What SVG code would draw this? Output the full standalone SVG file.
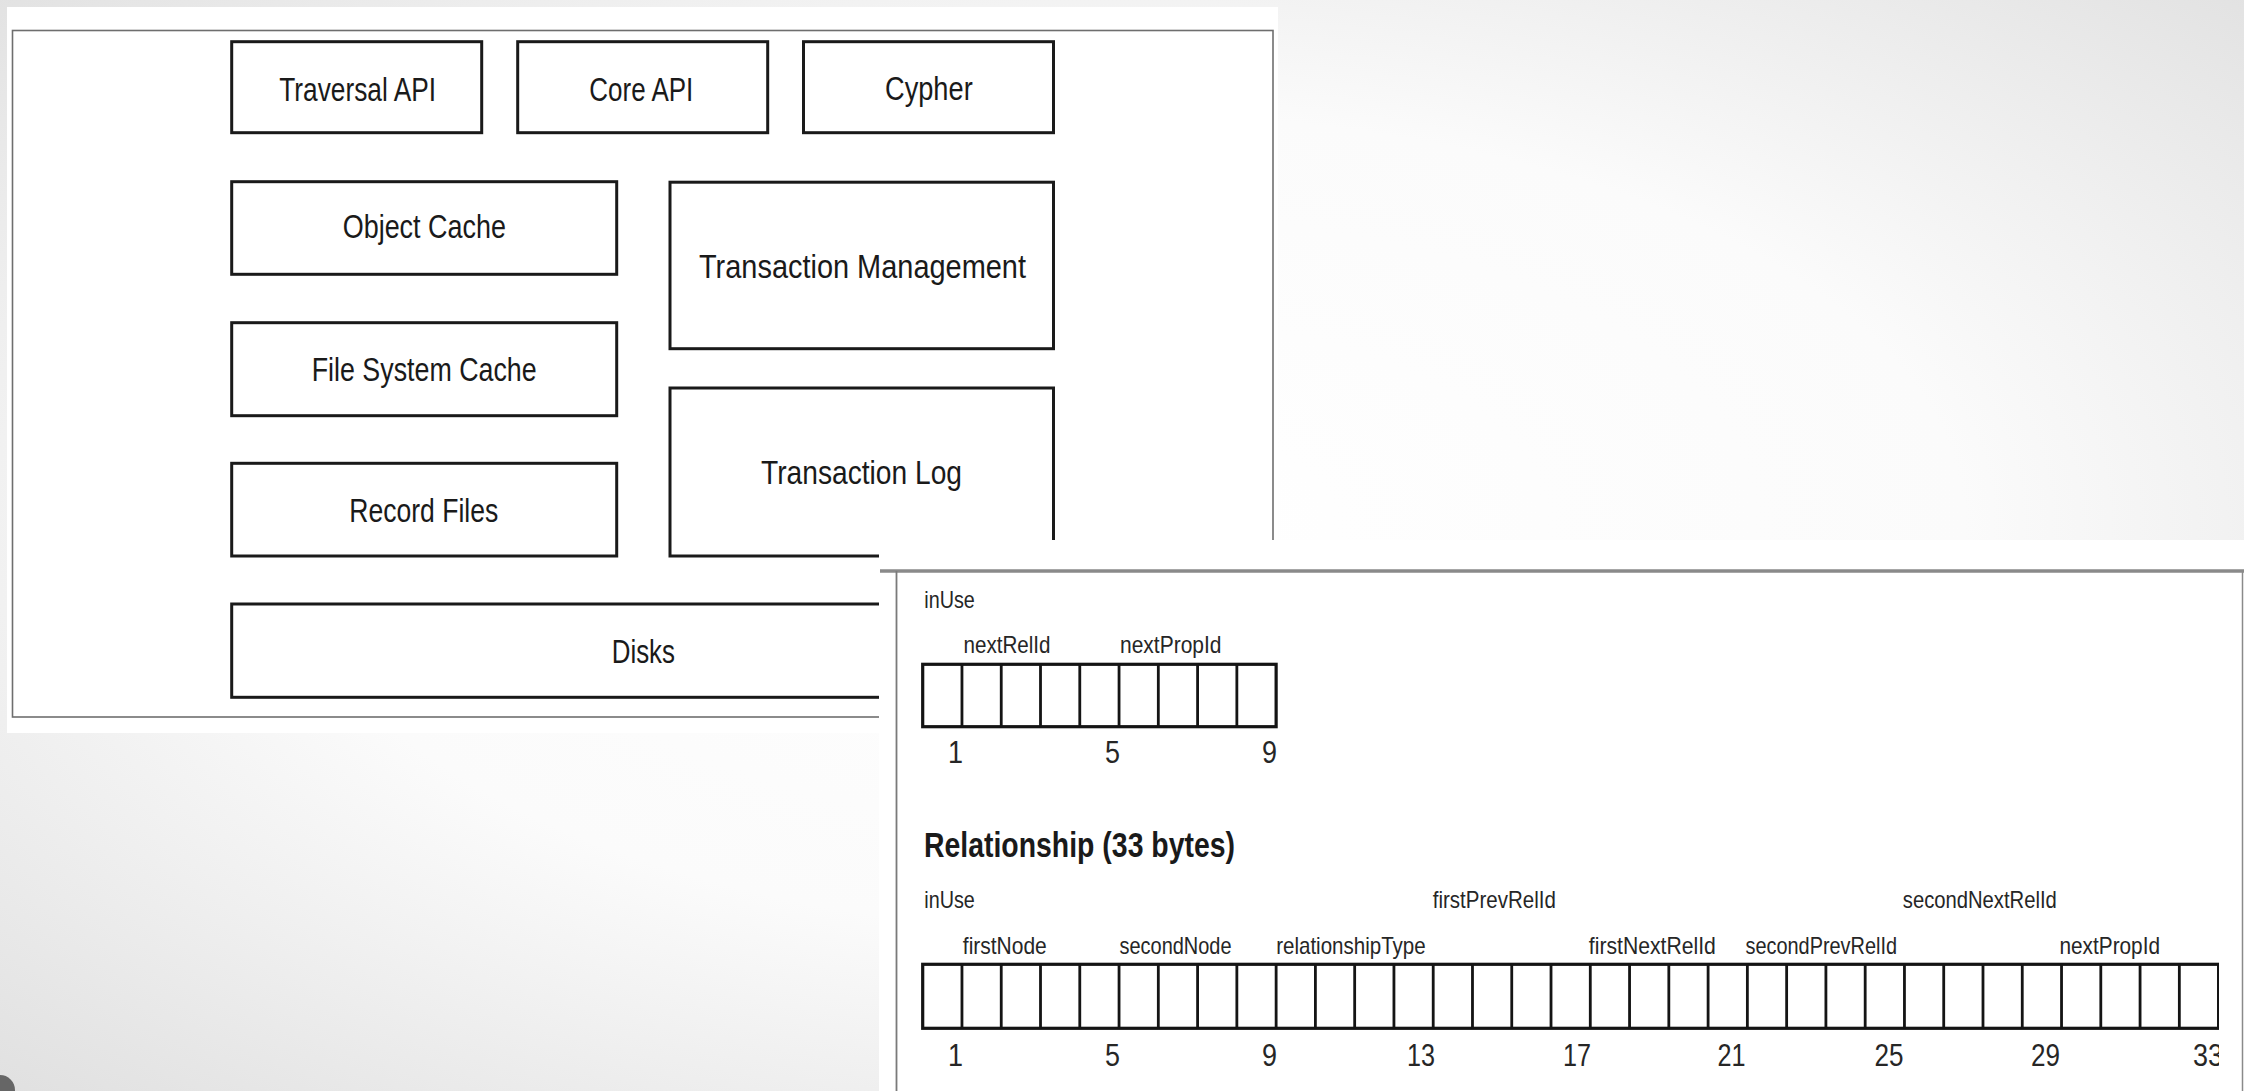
<svg xmlns="http://www.w3.org/2000/svg" width="2244" height="1091" viewBox="0 0 2244 1091">
<defs>
<radialGradient id="bg" cx="50%" cy="48%" r="75%">
<stop offset="0" stop-color="#ffffff"/>
<stop offset="0.5" stop-color="#fbfbfb"/>
<stop offset="1" stop-color="#dedede"/>
</radialGradient>
<clipPath id="clipRight"><rect x="880" y="540" width="1339" height="551"/></clipPath>
<style>
.box{fill:#fff;stroke:#1a1a1a;stroke-width:3}
.lbl{font-family:"Liberation Sans",Arial,sans-serif;font-size:33px;fill:#1a1a1a}
.fld{font-family:"Liberation Sans",Arial,sans-serif;font-size:24px;fill:#262626}
.num{font-family:"Liberation Sans",Arial,sans-serif;font-size:31px;fill:#262626;text-anchor:end}
.ttl{font-family:"Liberation Sans",Arial,sans-serif;font-size:35px;font-weight:bold;fill:#1a1a1a}
.frame{fill:none;stroke:#6e6e6e;stroke-width:1.6}
.row{fill:none;stroke:#141414;stroke-width:3.2}
.div{fill:none;stroke:#141414;stroke-width:2.8}
</style>
</defs>

<rect x="0" y="0" width="2244" height="1091" fill="url(#bg)"/>
<circle cx="0" cy="1090" r="15" fill="#666"/>

<!-- First picture: architecture stack -->
<g id="architecture">
<rect x="7" y="7" width="1271" height="726" fill="#fff"/>
<rect class="frame" x="12.5" y="30.5" width="1260.5" height="686.5"/>

<g id="node-traversal-api">
<rect class="box" x="231.7" y="41.7" width="250" height="91"/>
<text class="lbl" x="279.3" y="101" textLength="156.7" lengthAdjust="spacingAndGlyphs">Traversal API</text>
</g>
<g id="node-core-api">
<rect class="box" x="517.7" y="41.7" width="250" height="91"/>
<text class="lbl" x="589.3" y="101" textLength="104" lengthAdjust="spacingAndGlyphs">Core API</text>
</g>
<g id="node-cypher">
<rect class="box" x="803.5" y="41.7" width="250" height="91"/>
<text class="lbl" x="885" y="100" textLength="87.7" lengthAdjust="spacingAndGlyphs">Cypher</text>
</g>
<g id="node-object-cache">
<rect class="box" x="231.7" y="181.7" width="385" height="92.6"/>
<text class="lbl" x="342.7" y="238.3" textLength="163.3" lengthAdjust="spacingAndGlyphs">Object Cache</text>
</g>
<g id="node-transaction-management">
<rect class="box" x="670" y="182.2" width="383.5" height="166.5"/>
<text class="lbl" x="699" y="278.3" textLength="327" lengthAdjust="spacingAndGlyphs">Transaction Management</text>
</g>
<g id="node-file-system-cache">
<rect class="box" x="231.7" y="322.7" width="385" height="93"/>
<text class="lbl" x="311.7" y="381" textLength="225" lengthAdjust="spacingAndGlyphs">File System Cache</text>
</g>
<g id="node-transaction-log">
<rect class="box" x="670" y="388" width="383.5" height="168"/>
<text class="lbl" x="761" y="484" textLength="201" lengthAdjust="spacingAndGlyphs">Transaction Log</text>
</g>
<g id="node-record-files">
<rect class="box" x="231.7" y="463.3" width="385" height="92.7"/>
<text class="lbl" x="349.3" y="521.7" textLength="149" lengthAdjust="spacingAndGlyphs">Record Files</text>
</g>
<g id="node-disks">
<rect class="box" x="231.7" y="604" width="821.8" height="93.3"/>
<text class="lbl" x="611.7" y="663.3" textLength="63.3" lengthAdjust="spacingAndGlyphs">Disks</text>
</g>
</g>

<g id="connectors"></g>

<!-- Second picture: record layouts -->
<g id="records">
<rect x="879" y="540" width="1365" height="551" fill="#fff"/>
<line x1="880" y1="571" x2="2244" y2="571" stroke="#8a8a8a" stroke-width="3.5"/>
<line x1="896.5" y1="571" x2="896.5" y2="1091" stroke="#7a7a7a" stroke-width="1.8"/>
<line x1="2242.5" y1="571" x2="2242.5" y2="1091" stroke="#8a8a8a" stroke-width="1.5"/>

<g id="node-record">
<text class="fld" x="924.3" y="608.3" textLength="50.5" lengthAdjust="spacingAndGlyphs">inUse</text>
<text class="fld" x="963.5" y="653.3" textLength="87" lengthAdjust="spacingAndGlyphs">nextRelId</text>
<text class="fld" x="1120" y="653.3" textLength="101.5" lengthAdjust="spacingAndGlyphs">nextPropId</text>
<rect class="row" x="922.7" y="664.3" width="353.43" height="62.4"/>
<path class="div" d="M961.97 664.3V726.7M1001.24 664.3V726.7M1040.51 664.3V726.7M1079.78 664.3V726.7M1119.05 664.3V726.7M1158.32 664.3V726.7M1197.59 664.3V726.7M1236.86 664.3V726.7"/>
<text class="num" x="963" y="763" textLength="15" lengthAdjust="spacingAndGlyphs">1</text>
<text class="num" x="1120" y="763" textLength="15" lengthAdjust="spacingAndGlyphs">5</text>
<text class="num" x="1277" y="763" textLength="15" lengthAdjust="spacingAndGlyphs">9</text>
</g>

<g id="node-relationship" clip-path="url(#clipRight)">
<text class="ttl" x="924" y="857.3" textLength="311" lengthAdjust="spacingAndGlyphs">Relationship (33 bytes)</text>
<text class="fld" x="924.3" y="908.3" textLength="50.5" lengthAdjust="spacingAndGlyphs">inUse</text>
<text class="fld" x="1432.8" y="908.3" textLength="123" lengthAdjust="spacingAndGlyphs">firstPrevRelId</text>
<text class="fld" x="1902.8" y="908.3" textLength="154" lengthAdjust="spacingAndGlyphs">secondNextRelId</text>
<text class="fld" x="962.8" y="954.3" textLength="84" lengthAdjust="spacingAndGlyphs">firstNode</text>
<text class="fld" x="1119.5" y="954.3" textLength="112" lengthAdjust="spacingAndGlyphs">secondNode</text>
<text class="fld" x="1276.2" y="954.3" textLength="149.5" lengthAdjust="spacingAndGlyphs">relationshipType</text>
<text class="fld" x="1588.8" y="954.3" textLength="127" lengthAdjust="spacingAndGlyphs">firstNextRelId</text>
<text class="fld" x="1745.5" y="954.3" textLength="151.5" lengthAdjust="spacingAndGlyphs">secondPrevRelId</text>
<text class="fld" x="2059.5" y="954.3" textLength="100.5" lengthAdjust="spacingAndGlyphs">nextPropId</text>
<rect class="row" x="922.7" y="964.3" width="1295.91" height="64"/>
<path class="div" d="M961.97 964.3V1028.3M1001.24 964.3V1028.3M1040.51 964.3V1028.3M1079.78 964.3V1028.3M1119.05 964.3V1028.3M1158.32 964.3V1028.3M1197.59 964.3V1028.3M1236.86 964.3V1028.3M1276.13 964.3V1028.3M1315.4 964.3V1028.3M1354.67 964.3V1028.3M1393.94 964.3V1028.3M1433.21 964.3V1028.3M1472.48 964.3V1028.3M1511.75 964.3V1028.3M1551.02 964.3V1028.3M1590.29 964.3V1028.3M1629.56 964.3V1028.3M1668.83 964.3V1028.3M1708.1 964.3V1028.3M1747.37 964.3V1028.3M1786.64 964.3V1028.3M1825.91 964.3V1028.3M1865.18 964.3V1028.3M1904.45 964.3V1028.3M1943.72 964.3V1028.3M1982.99 964.3V1028.3M2022.26 964.3V1028.3M2061.53 964.3V1028.3M2100.8 964.3V1028.3M2140.07 964.3V1028.3M2179.34 964.3V1028.3"/>
<text class="num" x="963" y="1065.5" textLength="15" lengthAdjust="spacingAndGlyphs">1</text>
<text class="num" x="1120" y="1065.5" textLength="15" lengthAdjust="spacingAndGlyphs">5</text>
<text class="num" x="1277" y="1065.5" textLength="15" lengthAdjust="spacingAndGlyphs">9</text>
<text class="num" x="1435" y="1065.5" textLength="28" lengthAdjust="spacingAndGlyphs">13</text>
<text class="num" x="1591" y="1065.5" textLength="28" lengthAdjust="spacingAndGlyphs">17</text>
<text class="num" x="1745.5" y="1065.5" textLength="28" lengthAdjust="spacingAndGlyphs">21</text>
<text class="num" x="1903.5" y="1065.5" textLength="29" lengthAdjust="spacingAndGlyphs">25</text>
<text class="num" x="2060" y="1065.5" textLength="29" lengthAdjust="spacingAndGlyphs">29</text>
<text class="num" x="2223" y="1065.5" textLength="30" lengthAdjust="spacingAndGlyphs">33</text>
</g>
</g>
</svg>
